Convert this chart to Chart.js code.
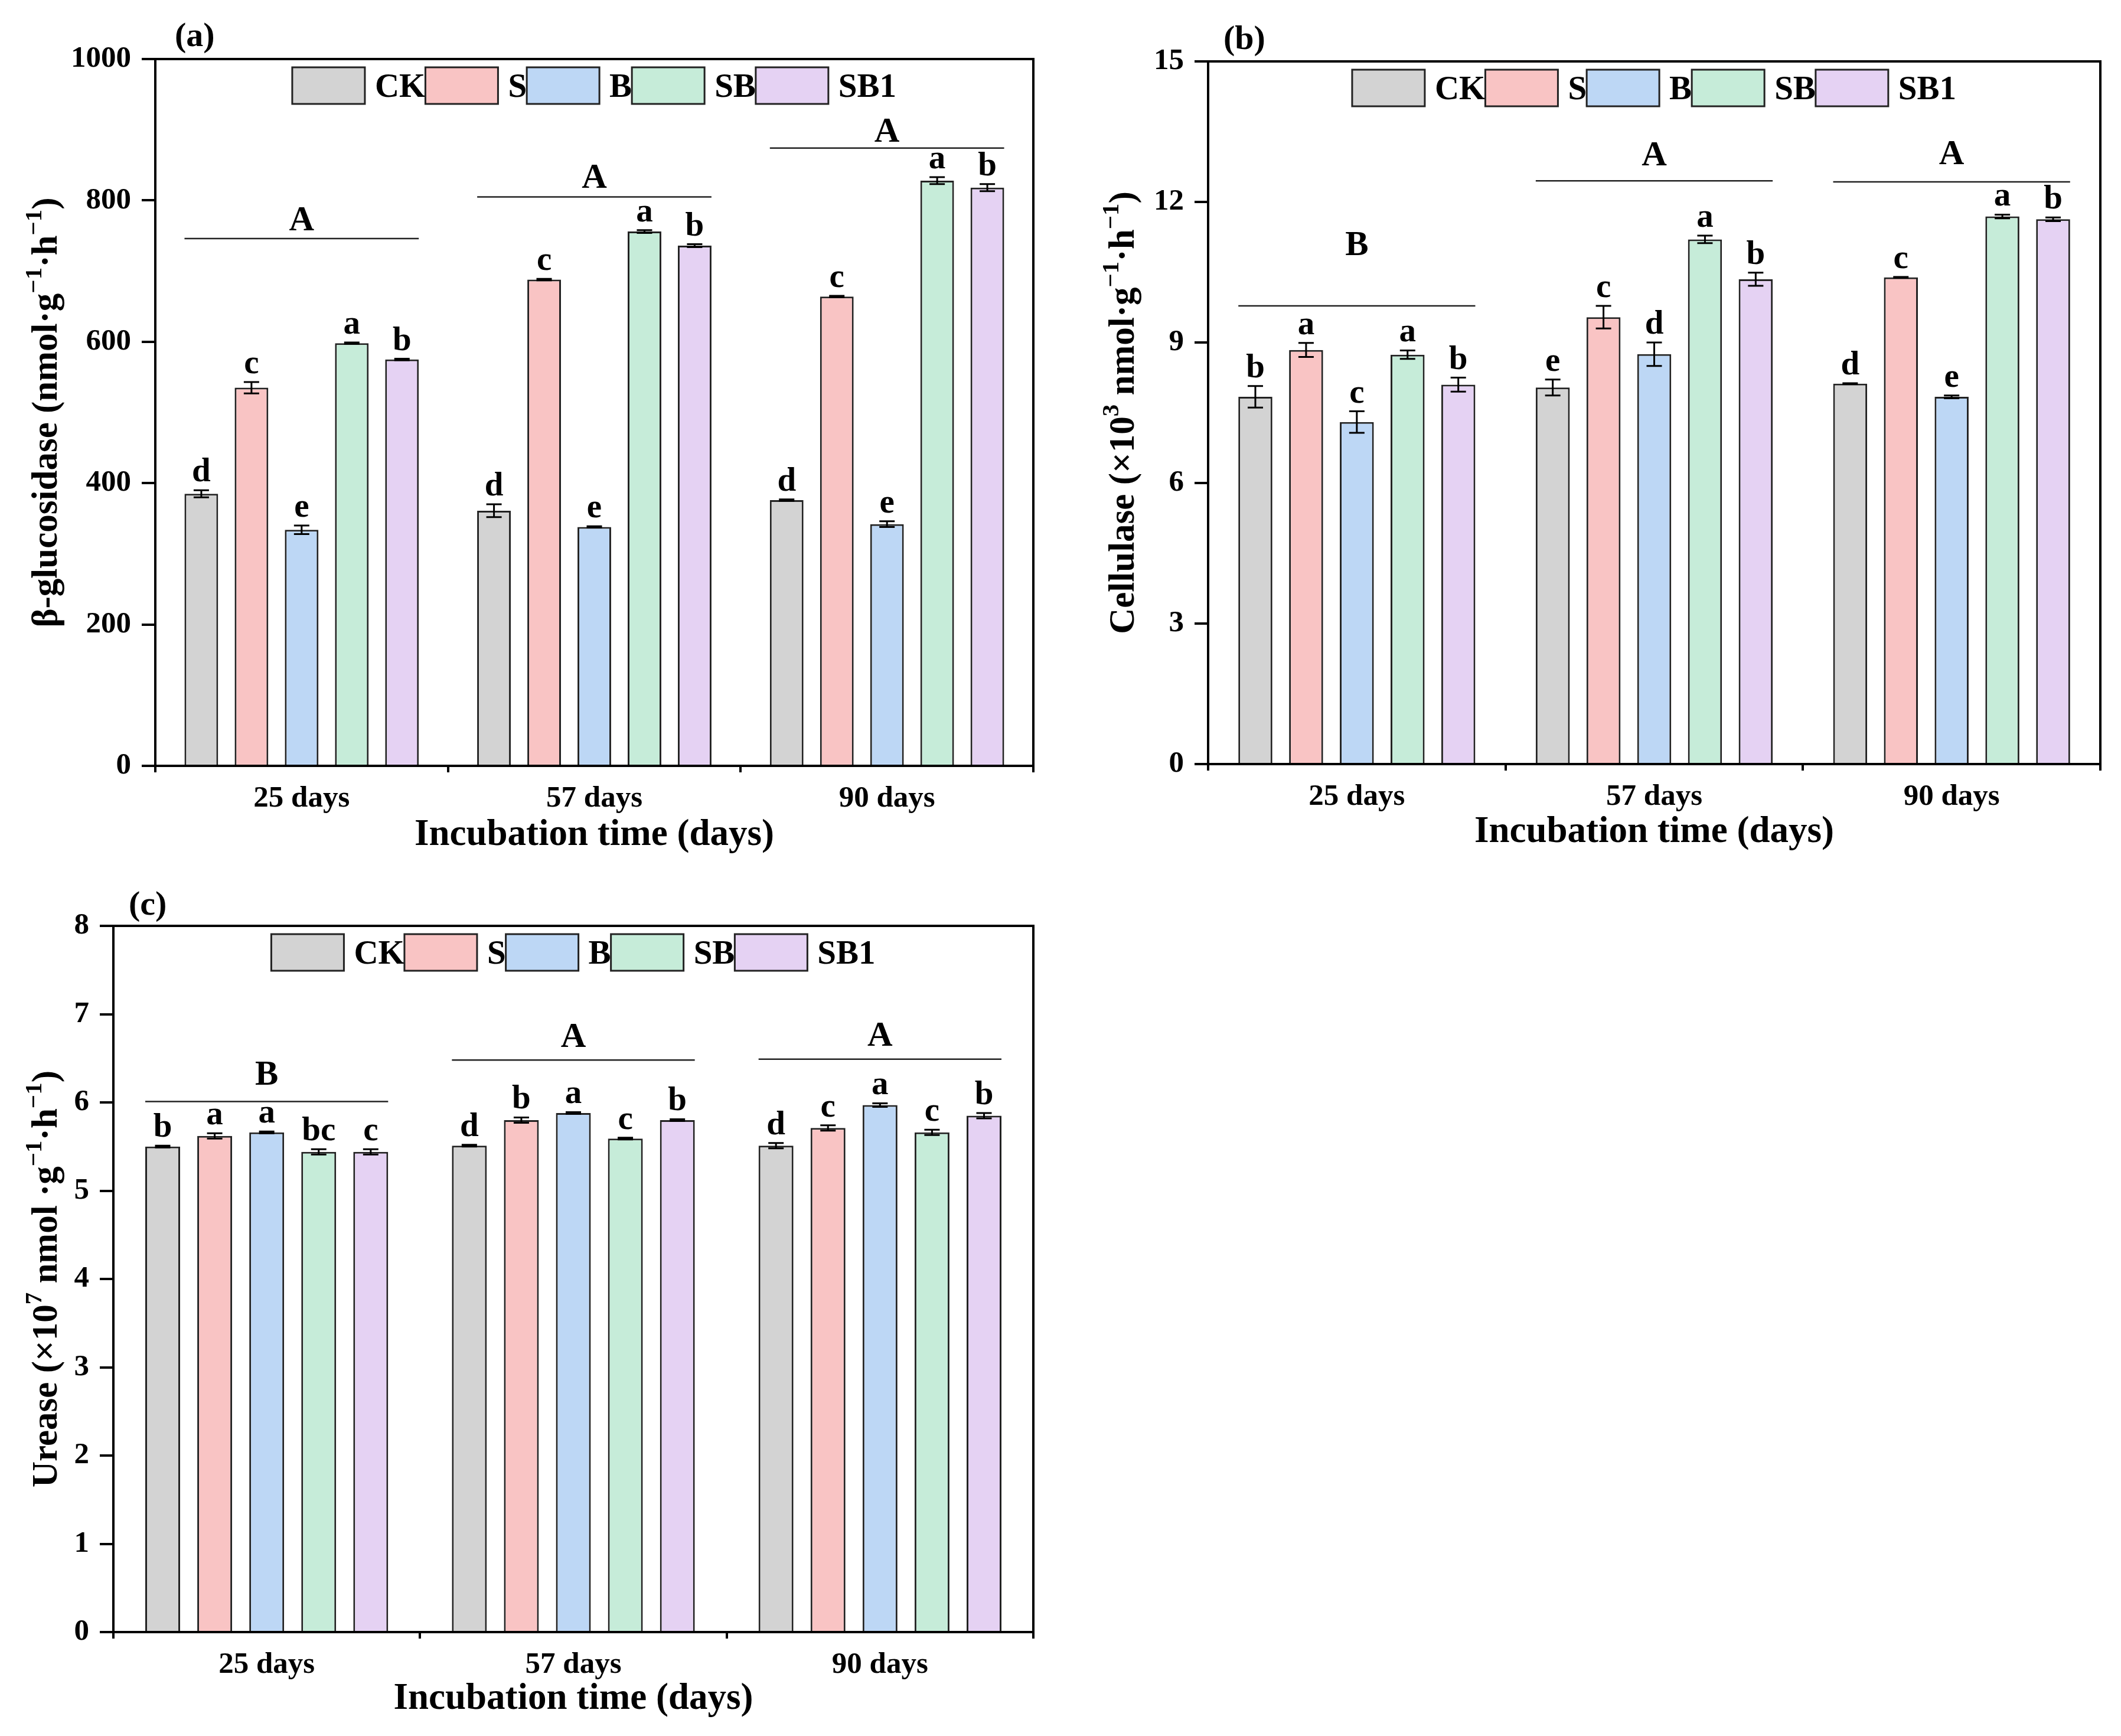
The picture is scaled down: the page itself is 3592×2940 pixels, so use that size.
<!DOCTYPE html>
<html>
<head>
<meta charset="utf-8">
<script src="https://cdn.jsdelivr.net/npm/chart.js@4.4.1/dist/chart.umd.min.js"></script>
<style>
  body { margin: 0; background: #fff; width: 3592px; height: 2940px; position: relative; overflow: hidden; }
  canvas { position: absolute; }
</style>
</head>
<body>
<canvas id="chartA" width="1796" height="1470" style="left:0;top:0"></canvas>
<canvas id="chartB" width="1796" height="1470" style="left:1796px;top:0"></canvas>
<canvas id="chartC" width="1796" height="1470" style="left:0;top:1470px"></canvas>
<script>
// categories and treatments
const days = ['25 days', '57 days', '90 days'];
const treatments = ['CK', 'S', 'B', 'SB', 'SB1'];
const fills = ['#d3d3d3', '#f9c4c4', '#bdd7f5', '#c6ecd9', '#e5d2f3'];

// (a) beta-glucosidase, one row per treatment (CK, S, B, SB, SB1)
const glucMean = [[385, 361, 376], [535, 688, 664], [334, 338, 342], [598, 756, 828], [575, 736, 818]];
const glucErr = [[5, 9, 1], [8, 1, 1], [6, 1, 4], [1, 2, 5], [1, 2, 5]];
const glucLetters = [['d', 'd', 'd'], ['c', 'c', 'c'], ['e', 'e', 'e'], ['a', 'a', 'a'], ['b', 'b', 'b']];
const glucGroup = ['A', 'A', 'A'];
const glucGroupLine = [746, 805, 874];
const glucGroupText = [758, 818, 883];
const glucTicks = [0, 200, 400, 600, 800, 1000];

// (b) cellulase (x10^3)
const cellMean = [[7.84, 8.04, 8.12], [8.84, 9.54, 10.39], [7.30, 8.75, 7.84], [8.74, 11.20, 11.69], [8.10, 10.35, 11.63]];
const cellErr = [[0.23, 0.17, 0.01], [0.15, 0.24, 0.01], [0.23, 0.25, 0.03], [0.09, 0.08, 0.04], [0.15, 0.14, 0.04]];
const cellLetters = [['b', 'e', 'd'], ['a', 'c', 'c'], ['c', 'd', 'e'], ['a', 'a', 'a'], ['b', 'b', 'b']];
const cellGroup = ['B', 'A', 'A'];
const cellGroupLine = [9.78, 12.45, 12.43];
const cellGroupText = [10.87, 12.78, 12.81];
const cellTicks = [0, 3, 6, 9, 12, 15];

// (c) urease (x10^7)
const ureaMean = [[5.50, 5.51, 5.51], [5.62, 5.80, 5.71], [5.66, 5.88, 5.97], [5.44, 5.59, 5.66], [5.44, 5.80, 5.85]];
const ureaErr = [[0.01, 0.01, 0.03], [0.03, 0.03, 0.03], [0.01, 0.01, 0.02], [0.03, 0.01, 0.03], [0.03, 0.01, 0.03]];
const ureaLetters = [['b', 'd', 'd'], ['a', 'b', 'c'], ['a', 'a', 'a'], ['bc', 'c', 'c'], ['c', 'b', 'b']];
const ureaGroup = ['B', 'A', 'A'];
const ureaGroupLine = [6.01, 6.48, 6.49];
const ureaGroupText = [6.20, 6.63, 6.64];
const ureaTicks = [0, 1, 2, 3, 4, 5, 6, 7, 8];

const SERIF = "'Liberation Serif', 'Times New Roman', serif";
function font(sz) { return 'bold ' + sz + 'px ' + SERIF; }

// text with superscripts, segs = [[text, isSup], ...], centred on 0
function drawRich(ctx, segs, size) {
  const sup = Math.round(size * 0.68);
  let total = 0;
  segs.forEach(s => { ctx.font = font(s[1] ? sup : size); total += ctx.measureText(s[0]).width; });
  let x = -total / 2;
  ctx.textAlign = 'left';
  ctx.textBaseline = 'alphabetic';
  segs.forEach(s => {
    ctx.font = font(s[1] ? sup : size);
    ctx.fillText(s[0], x, s[1] ? -size * 0.42 : 0);
    x += ctx.measureText(s[0]).width;
  });
}

const decor = {
  id: 'decor',
  afterDatasetsDraw(chart, args, o) {
    const ctx = chart.ctx, ys = chart.scales.y;
    ctx.save();
    ctx.fillStyle = '#000';
    ctx.strokeStyle = '#000';
    // error bars and letters
    o.err.forEach((row, i) => {
      chart.getDatasetMeta(i).data.forEach((bar, j) => {
        const m = o.mean[i][j], e = row[j];
        const yt = ys.getPixelForValue(m + e), yb = ys.getPixelForValue(m - e);
        ctx.lineWidth = 3;
        ctx.beginPath();
        ctx.moveTo(bar.x, yb); ctx.lineTo(bar.x, yt);
        ctx.moveTo(bar.x - 13, yt); ctx.lineTo(bar.x + 13, yt);
        ctx.moveTo(bar.x - 13, yb); ctx.lineTo(bar.x + 13, yb);
        ctx.stroke();
        ctx.font = font(57);
        ctx.textAlign = 'center';
        ctx.textBaseline = 'alphabetic';
        ctx.fillText(o.letters[i][j], bar.x, yt - 15);
      });
    });
    // group lines with capital letters
    const first = chart.getDatasetMeta(0).data, last = chart.getDatasetMeta(o.err.length - 1).data;
    o.group.forEach((g, j) => {
      const x0 = first[j].x - first[j].width / 2, x1 = last[j].x + last[j].width / 2;
      const y = ys.getPixelForValue(o.groupLine[j]);
      ctx.strokeStyle = '#222';
      ctx.lineWidth = 2.5;
      ctx.beginPath(); ctx.moveTo(x0, y); ctx.lineTo(x1, y); ctx.stroke();
      ctx.font = font(59);
      ctx.textAlign = 'center';
      ctx.fillText(g, (x0 + x1) / 2, ys.getPixelForValue(o.groupText[j]));
    });
    ctx.restore();
  },
  afterDraw(chart, args, o) {
    const ctx = chart.ctx, ca = chart.chartArea;
    ctx.save();
    // top and right frame
    ctx.strokeStyle = '#000';
    ctx.lineWidth = 4;
    ctx.beginPath();
    ctx.moveTo(ca.left - 2, ca.top); ctx.lineTo(ca.right, ca.top); ctx.lineTo(ca.right, ca.bottom);
    ctx.stroke();
    // legend row inside the plot
    ctx.font = font(57);
    const bw = 123, bh = 62, gap = 17;
    let w = 0;
    treatments.forEach(t => { w += bw + gap + ctx.measureText(t).width; });
    let x = (ca.left + ca.right) / 2 - w / 2;
    const by = ca.top + 14;
    treatments.forEach((t, i) => {
      ctx.fillStyle = fills[i];
      ctx.fillRect(x, by, bw, bh);
      ctx.strokeStyle = '#222';
      ctx.lineWidth = 3;
      ctx.strokeRect(x, by, bw, bh);
      x += bw + gap;
      ctx.fillStyle = '#000';
      ctx.textAlign = 'left';
      ctx.textBaseline = 'alphabetic';
      ctx.fillText(t, x, by + bh / 2 + 19);
      x += ctx.measureText(t).width;
    });
    // panel letter
    ctx.font = font(58);
    ctx.fillText(o.panel, o.panelX, o.panelY);
    // x title
    ctx.font = font(63);
    ctx.textAlign = 'center';
    ctx.fillText('Incubation time (days)', (ca.left + ca.right) / 2, o.xTitleY);
    // y title, rotated
    ctx.translate(o.yTitleX, (ca.top + ca.bottom) / 2);
    ctx.rotate(-Math.PI / 2);
    drawRich(ctx, o.yTitle, 61);
    ctx.restore();
  }
};

function makePanel(id, box, mean, err, letters, group, groupLine, groupText, ticks, extra) {
  const canvas = document.getElementById(id);
  const W = canvas.width, H = canvas.height;
  const step = ticks[1] - ticks[0];
  return new Chart(canvas, {
    type: 'bar',
    data: {
      labels: days,
      datasets: treatments.map((t, i) => ({
        label: t,
        data: mean[i],
        backgroundColor: fills[i],
        borderColor: '#222',
        borderWidth: 3,
        categoryPercentage: box.cat,
        barPercentage: 0.67
      }))
    },
    options: {
      responsive: false,
      devicePixelRatio: 1,
      animation: false,
      layout: { padding: { left: 0, top: box.top, right: W - box.right, bottom: 0 } },
      plugins: {
        legend: { display: false },
        tooltip: { enabled: false },
        decor: Object.assign({ mean: mean, err: err, letters: letters, group: group, groupLine: groupLine, groupText: groupText }, extra)
      },
      scales: {
        x: {
          grid: { offset: true, drawOnChartArea: false, tickLength: 11, lineWidth: 4, color: '#000' },
          border: { color: '#000', width: 4 },
          ticks: { color: '#000', font: { family: SERIF, weight: 'bold', size: 51 }, padding: 14 },
          afterFit(s) { s.height = H - box.bottom; }
        },
        y: {
          min: ticks[0],
          max: ticks[ticks.length - 1],
          grid: { drawOnChartArea: false, tickLength: 23, lineWidth: 4, color: '#000' },
          border: { color: '#000', width: 4 },
          ticks: { stepSize: step, color: '#000', font: { family: SERIF, weight: 'bold', size: 51 }, padding: 18,
                   callback: v => String(v) },
          afterFit(s) { s.width = box.left; }
        }
      }
    },
    plugins: [decor]
  });
}

makePanel('chartA', { left: 263, right: 1750, top: 100, bottom: 1297, cat: 0.857 },
  glucMean, glucErr, glucLetters, glucGroup, glucGroupLine, glucGroupText, glucTicks,
  { panel: '(a)', panelX: 296, panelY: 78, xTitleY: 1431, yTitleX: 96,
    yTitle: [['β-glucosidase (nmol·g', 0], ['−1', 1], ['·h', 0], ['−1', 1], [')', 0]] });

makePanel('chartB', { left: 250, right: 1761, top: 104, bottom: 1294, cat: 0.853 },
  cellMean, cellErr, cellLetters, cellGroup, cellGroupLine, cellGroupText, cellTicks,
  { panel: '(b)', panelX: 276, panelY: 83, xTitleY: 1426, yTitleX: 124,
    yTitle: [['Cellulase (×10', 0], ['3', 1], [' nmol·g', 0], ['−1', 1], ['·h', 0], ['−1', 1], [')', 0]] });

makePanel('chartC', { left: 192, right: 1750, top: 98, bottom: 1294, cat: 0.848 },
  ureaMean, ureaErr, ureaLetters, ureaGroup, ureaGroupLine, ureaGroupText, ureaTicks,
  { panel: '(c)', panelX: 218, panelY: 79, xTitleY: 1424, yTitleX: 96,
    yTitle: [['Urease (×10', 0], ['7', 1], [' nmol ·g', 0], ['−1', 1], ['·h', 0], ['−1', 1], [')', 0]] });
</script>
</body>
</html>
